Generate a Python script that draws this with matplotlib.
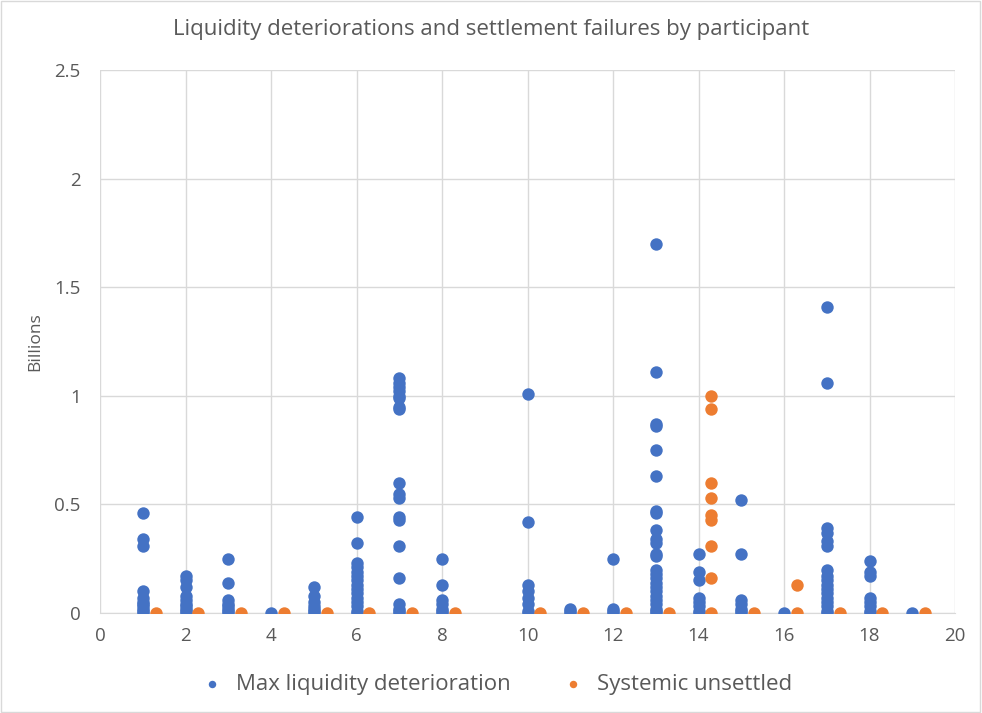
import numpy as np
import matplotlib
matplotlib.use('Agg')
import matplotlib.pyplot as plt
from matplotlib.ticker import FuncFormatter

# max liquidity deterioration per participant (billions)
liq = {
    1: [0.46, 0.34, 0.31, 0.10, 0.07, 0.05, 0.04, 0.03, 0.02, 0.01, 0.0],
    2: [0.17, 0.15, 0.12, 0.08, 0.06, 0.04, 0.03, 0.02, 0.01, 0.0],
    3: [0.25, 0.14, 0.06, 0.04, 0.03, 0.02, 0.01, 0.0],
    4: [0.0],
    5: [0.12, 0.08, 0.05, 0.03, 0.02, 0.01, 0.0],
    6: [0.44, 0.32, 0.23, 0.21, 0.19, 0.17, 0.15, 0.13, 0.11, 0.09, 0.07, 0.05, 0.03, 0.01, 0.0],
    7: [1.08, 1.06, 1.04, 1.02, 1.00, 0.99, 0.95, 0.94, 0.60, 0.55, 0.53, 0.44, 0.43, 0.31, 0.16, 0.04, 0.02, 0.01, 0.0],
    8: [0.25, 0.13, 0.06, 0.04, 0.02, 0.01, 0.0],
    10: [1.01, 0.42, 0.13, 0.10, 0.07, 0.04, 0.01, 0.0],
    11: [0.02, 0.01, 0.0],
    12: [0.25, 0.02, 0.01, 0.0],
    13: [1.70, 1.11, 0.87, 0.86, 0.75, 0.63, 0.47, 0.46, 0.38, 0.34, 0.32, 0.27, 0.26,
         0.20, 0.18, 0.16, 0.14, 0.12, 0.10, 0.08, 0.06, 0.04, 0.02, 0.01, 0.0],
    14: [0.27, 0.19, 0.15, 0.07, 0.05, 0.03, 0.01, 0.0],
    15: [0.52, 0.27, 0.06, 0.04, 0.02, 0.01, 0.0],
    16: [0.0],
    17: [1.41, 1.06, 0.39, 0.37, 0.33, 0.31, 0.20, 0.17, 0.15, 0.13, 0.11, 0.09,
         0.07, 0.05, 0.03, 0.01, 0.0],
    18: [0.24, 0.19, 0.17, 0.07, 0.05, 0.03, 0.01, 0.0],
    19: [0.0],
}

# systemic unsettled per participant (billions), plotted offset by 0.3
unsettled = {
    1: [0.0], 2: [0.0], 3: [0.0], 4: [0.0], 5: [0.0], 6: [0.0], 7: [0.0], 8: [0.0],
    10: [0.0], 11: [0.0], 12: [0.0], 13: [0.0],
    14: [1.00, 0.94, 0.60, 0.53, 0.45, 0.43, 0.31, 0.16, 0.0],
    15: [0.0], 16: [0.13, 0.0], 17: [0.0], 18: [0.0], 19: [0.0],
}
offset = 0.3

blue = '#4472C4'
orange = '#ED7D31'
grey = '#595959'

plt.rcParams['font.family'] = ['Open Sans', 'DejaVu Sans']

fig = plt.figure(figsize=(9.82, 7.13), dpi=100)
ax = fig.add_axes([0.102, 0.1403, 0.8705, 0.7615])

lx = [k for k, v in liq.items() for _ in v]
ly = [y for v in liq.values() for y in v]
ux = [k + offset for k, v in unsettled.items() for _ in v]
uy = [y for v in unsettled.values() for y in v]

ax.scatter(lx, ly, s=80, color=blue, zorder=3, linewidths=0, label='Max liquidity deterioration')
ax.scatter(ux, uy, s=80, color=orange, zorder=3, linewidths=0, label='Systemic unsettled')

ax.set_xlim(0, 20)
ax.set_ylim(0, 2.5)
ax.set_xticks(range(0, 21, 2))
ax.set_yticks([0, 0.5, 1, 1.5, 2, 2.5])
ax.yaxis.set_major_formatter(FuncFormatter(lambda v, p: f'{v:g}'))
ax.grid(True, color='#d9d9d9', linewidth=1)
ax.set_axisbelow(True)
for s in ['top', 'right', 'left']:
    ax.spines[s].set_visible(False)
ax.spines['bottom'].set_color('#d9d9d9')
ax.tick_params(length=0, labelsize=13.5, colors=grey, pad=10)
ax.tick_params(axis='y', pad=14)

ax.set_ylabel('Billions', fontsize=12.5, color=grey, labelpad=8)
fig.text(0.5, 0.958, 'Liquidity deteriorations and settlement failures by participant',
         ha='center', va='center', fontsize=16, color=grey)

fig.legend(loc='center', bbox_to_anchor=(0.5, 0.04), ncol=2, frameon=False,
           fontsize=16, labelcolor=grey, handletextpad=0.1, columnspacing=1.8,
           markerscale=0.6)

# thin frame round whole chart
fig.patches.append(plt.Rectangle((0.001, 0.001), 0.997, 0.997, transform=fig.transFigure,
                                 fill=False, edgecolor='#d9d9d9', linewidth=1))

fig.savefig('out.png', dpi=100)
